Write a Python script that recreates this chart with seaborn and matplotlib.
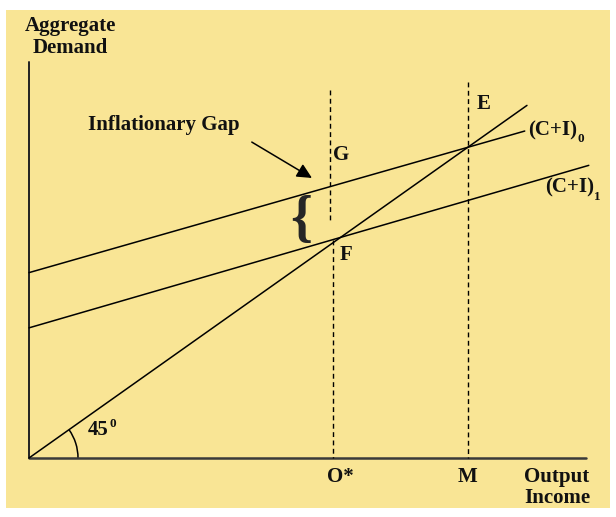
import matplotlib
matplotlib.use('Agg')
import matplotlib.pyplot as plt
import seaborn as sns
from matplotlib.patches import Rectangle, Arc

# --- Data (axis units: both axes run 0..100, 45 degree line is y = x) ---
line45_x = [0, 89.4]
line45_y = [0, 89.4]
ci0_x = [0, 89.0]
ci0_y = [47.0, 82.9]
ci1_x = [0, 100.5]
ci1_y = [33.0, 74.2]
o_star = 54.6
m_level = 78.8
o_star_upper = [93.3, 60.3]
o_star_lower = [55.3, 0]
m_top = 95.3
x_axis_len = 100
y_axis_len = 100.4

BG = '#f9e595'
FONT = 'Liberation Serif'

sns.set_theme(style='white')
plt.rcParams['font.family'] = [FONT, 'DejaVu Serif']

fig = plt.figure(figsize=(6.16, 5.17), dpi=100)
fig.patch.set_facecolor('white')
fig.add_artist(Rectangle((6 / 616, 9 / 517), 604 / 616, 498 / 517,
                         transform=fig.transFigure, facecolor=BG,
                         edgecolor='none', zorder=0))

ax = fig.add_axes([0, 0, 1, 1])
ax.set_facecolor('none')
ax.set_xlim(-29 / 5.57, (616 - 29) / 5.57)
ax.set_ylim(-59 / 3.944, 458 / 3.944)
ax.axis('off')

line = dict(ax=ax, sort=False, estimator=None)

# axes
sns.lineplot(x=[0, x_axis_len], y=[0, 0], color='#3a3a3a', lw=1.8, **line)
sns.lineplot(x=[0, 0], y=[0, y_axis_len], color='#222222', lw=1.4, **line)

# curves
sns.lineplot(x=line45_x, y=line45_y, color='black', lw=1.1, **line)
sns.lineplot(x=ci0_x, y=ci0_y, color='black', lw=1.1, **line)
sns.lineplot(x=ci1_x, y=ci1_y, color='black', lw=1.1, **line)

# dashed verticals
dash = dict(color='black', lw=1.0, linestyle=(0, (3.5, 2.5)))
ax.plot([o_star - 0.6, o_star - 0.6], o_star_upper, **dash)
ax.plot([o_star, o_star], o_star_lower, **dash)
ax.plot([m_level, m_level], [m_top, 0], **dash)

# 45 degree arc
ax.add_patch(Arc((0, 0), 2 * 49 / 5.57, 2 * 49 / 3.944, theta1=0, theta2=45,
                 color='black', lw=1.1))

# gap brace and arrow
ax.text(48.8, 60.0, '{', fontsize=40, fontweight='bold', ha='center', va='center')
ax.annotate('', xy=(50.8, 71.0), xytext=(40.0, 80.1),
            arrowprops=dict(arrowstyle='-|>,head_length=0.45,head_width=0.22',
                            color='black', lw=1.1, mutation_scale=20,
                            shrinkA=0, shrinkB=0))

txt = dict(fontsize=15, fontweight='bold', color='#111111', va='baseline')
small = dict(fontsize=9.5, fontweight='bold', color='#111111',
             textcoords='offset points', ha='left')
ax.text(7.36, 108.3, 'Aggregate', ha='center', **txt)
ax.text(7.36, 102.7, 'Demand', ha='center', **txt)
ax.text(10.6, 83.2, 'Inflationary Gap', ha='left', **txt)
ax.text(54.6, 75.6, 'G', ha='left', **txt)
ax.text(80.3, 88.5, 'E', ha='left', **txt)
ax.text(55.8, 50.2, 'F', ha='left', **txt)
c0 = ax.text(89.6, 81.9, '(C+I)', ha='left', **txt)
ax.annotate('0', xy=(1, 0), xycoords=c0, xytext=(0.5, -1.5), va='baseline', **small)
c1 = ax.text(92.6, 67.2, '(C+I)', ha='left', **txt)
ax.annotate('1', xy=(1, 0), xycoords=c1, xytext=(0.5, -1.5), va='baseline', **small)
ax.text(53.5, -6.1, 'O*', ha='left', **txt)
ax.text(77.0, -6.1, 'M', ha='left', **txt)
ax.text(88.9, -6.1, 'Output', ha='left', **txt)
ax.text(88.9, -11.4, 'Income', ha='left', **txt)
d45 = ax.text(10.6, 5.8, '45', ha='left', **txt)
ax.annotate('0', xy=(1, 1), xycoords=d45, xytext=(0.3, 1.5), va='top', **small)

fig.savefig('out.png', dpi=100, facecolor='white')
